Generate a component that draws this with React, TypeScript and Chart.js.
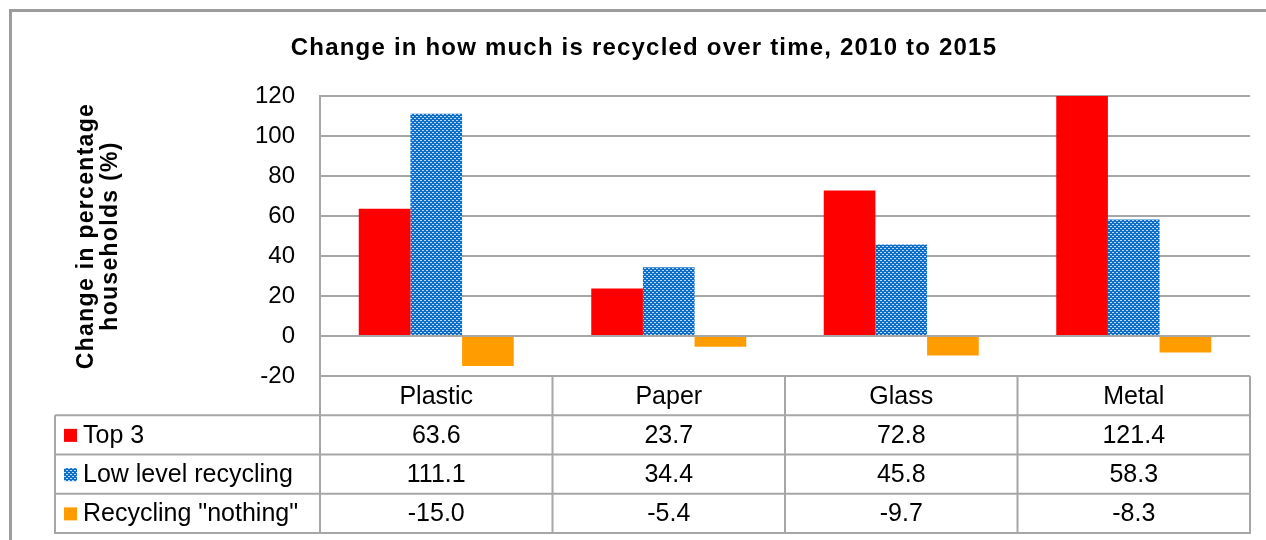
import { useEffect, useRef } from 'react';
import { Chart, registerables } from 'chart.js';

Chart.register(...registerables);

// Data
const categories = ['Plastic', 'Paper', 'Glass', 'Metal'];
const seriesNames = ['Top 3', 'Low level recycling', 'Recycling "nothing"'];
const top3 = [63.6, 23.7, 72.8, 121.4];
const lowLevel = [111.1, 34.4, 45.8, 58.3];
const recyclingNothing = [-15.0, -5.4, -9.7, -8.3];
const yMin = -20;
const yMax = 120;
const yStep = 20;
const chartTitle = 'Change in how much is recycled over time, 2010 to 2015';
const yTitle = ['Change in percentage', 'households (%)'];

// Styling
const W = 1266;
const H = 540;
const RED = '#ff0000';
const ORANGE = '#ff9c00';
const BLUE = '#0f6fc6';
const BLUE_DOT = '#bcd9f2';
const LINE = '#a6a6a6';
const BORDER = '#9c9c9c';
const FONT = '"Liberation Sans", Arial, sans-serif';

function makeBluePattern(ctx: CanvasRenderingContext2D): CanvasPattern | string {
  const tile = document.createElement('canvas');
  tile.width = 4;
  tile.height = 4;
  const p = tile.getContext('2d');
  if (!p) return BLUE;
  p.fillStyle = BLUE;
  p.fillRect(0, 0, 4, 4);
  p.fillStyle = BLUE_DOT;
  p.fillRect(0, 0, 2, 1);
  p.fillRect(2, 2, 2, 1);
  return ctx.createPattern(tile, 'repeat') || BLUE;
}

function makeFramePlugin(fills: (CanvasPattern | string)[]) {
  return {
    id: 'frameAndTable',
    beforeDraw(chart: any) {
      const { ctx } = chart;
      ctx.save();
      ctx.fillStyle = '#ffffff';
      ctx.fillRect(0, 0, chart.width, chart.height);
      ctx.restore();
    },
    afterDraw(chart: any) {
      const { ctx, chartArea } = chart;
      const n = categories.length;
      const colW = chartArea.width / n;
      const left = chartArea.left;
      const right = chartArea.right;
      const top = chartArea.bottom;
      const rowH = 39.25;
      const tableLeft = 55;
      const bottom = top + rowH * 4;

      ctx.save();

      // outer frame
      ctx.strokeStyle = BORDER;
      ctx.lineWidth = 3;
      ctx.strokeRect(10.5, 10.5, W + 40, H + 40);

      // title
      ctx.fillStyle = '#000';
      ctx.font = `bold 24px ${FONT}`;
      (ctx as any).letterSpacing = '1.2px';
      ctx.textAlign = 'center';
      ctx.textBaseline = 'middle';
      ctx.fillText(chartTitle, 644, 48);

      // y axis title
      ctx.save();
      ctx.font = `bold 23px ${FONT}`;
      (ctx as any).letterSpacing = '1.3px';
      ctx.translate(99, 236);
      ctx.rotate(-Math.PI / 2);
      ctx.fillText(yTitle[0], 0, -12);
      ctx.fillText(yTitle[1], 0, 12);
      ctx.restore();
      (ctx as any).letterSpacing = '0px';

      // data table grid
      ctx.strokeStyle = LINE;
      ctx.lineWidth = 2;
      ctx.beginPath();
      for (let k = 1; k <= 4; k++) {
        const y = top + k * rowH;
        ctx.moveTo(tableLeft, y);
        ctx.lineTo(right, y);
      }
      ctx.moveTo(tableLeft, top + rowH);
      ctx.lineTo(tableLeft, bottom + 1);
      ctx.moveTo(left, top);
      ctx.lineTo(left, bottom + 1);
      for (let i = 1; i <= n; i++) {
        const x = left + i * colW;
        ctx.moveTo(x, top);
        ctx.lineTo(x, bottom + 1);
      }
      ctx.stroke();

      // table text
      ctx.fillStyle = '#000';
      ctx.font = `25px ${FONT}`;
      ctx.textAlign = 'center';
      ctx.textBaseline = 'middle';
      categories.forEach((c, i) => {
        ctx.fillText(c, left + (i + 0.5) * colW, top + rowH / 2 + 1);
      });
      const series = [top3, lowLevel, recyclingNothing];
      series.forEach((vals, r) => {
        const cy = top + rowH * (r + 1.5) + 1;
        vals.forEach((v, i) => {
          ctx.fillText(v.toFixed(1), left + (i + 0.5) * colW, cy);
        });
      });

      // legend keys and series names
      ctx.textAlign = 'left';
      seriesNames.forEach((name, r) => {
        const cy = top + rowH * (r + 1.5);
        ctx.fillStyle = fills[r];
        ctx.fillRect(64, cy - 6, 13, 13);
        ctx.fillStyle = '#000';
        ctx.fillText(name, 83, cy + 1);
      });

      ctx.restore();
    },
  };
}

export default function App() {
  const ref = useRef<HTMLCanvasElement>(null);

  useEffect(() => {
    const canvas = ref.current;
    if (!canvas) return;
    const ctx = canvas.getContext('2d');
    if (!ctx) return;
    const bluePattern = makeBluePattern(ctx);
    const fills = [RED, bluePattern, ORANGE];

    const chart = new Chart(canvas, {
      type: 'bar',
      data: {
        labels: categories,
        datasets: [
          { label: seriesNames[0], data: top3, backgroundColor: fills[0] as any },
          { label: seriesNames[1], data: lowLevel, backgroundColor: fills[1] as any },
          { label: seriesNames[2], data: recyclingNothing, backgroundColor: fills[2] as any },
        ],
      },
      options: {
        animation: false,
        responsive: false,
        devicePixelRatio: 1,
        layout: { padding: { left: 0, top: 96, right: 16, bottom: 164 } },
        datasets: { bar: { barPercentage: 1, categoryPercentage: 2 / 3 } },
        scales: {
          x: { display: false },
          y: {
            min: yMin,
            max: yMax,
            ticks: {
              stepSize: yStep,
              color: '#000',
              padding: 25,
              font: { family: FONT, size: 24 },
            },
            grid: { color: LINE, lineWidth: 2, drawTicks: false },
            border: { display: true, color: LINE, width: 2 },
            afterFit(scale: any) {
              scale.width = 320;
            },
          },
        },
        plugins: {
          legend: { display: false },
          tooltip: { enabled: false },
          title: { display: false },
        },
      },
      plugins: [makeFramePlugin(fills)],
    });

    return () => chart.destroy();
  }, []);

  return (
    <div style={{ position: 'absolute', left: 0, top: 0, width: W, height: H }}>
      <canvas ref={ref} width={W} height={H} style={{ display: 'block', width: W, height: H }} />
    </div>
  );
}
